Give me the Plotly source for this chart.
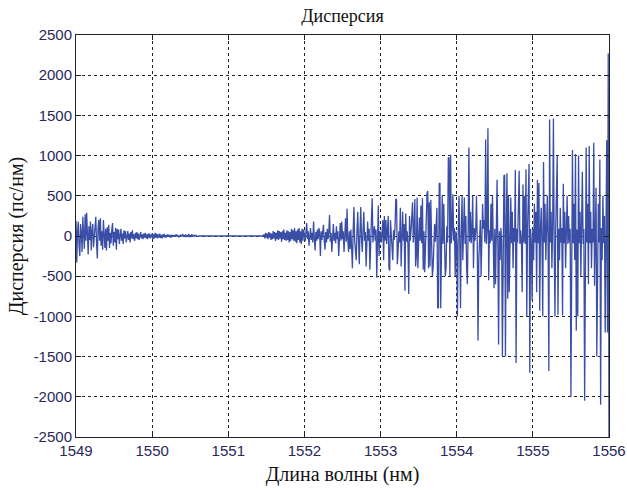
import numpy as np
import plotly.graph_objects as go

# Dispersion samples (ps/nm), one value per 0.01 nm, grouped by nanometre
disp_1549 = [
    190, -330, 60, 180, -120, -250, 150, 40, -200, 240,
    20, -160, 270, -60, 290, -100, -230, 120, -50, 180,
    -180, 60, 150, -140, 30, 160, 240, -90, -280, 100,
    200, -60, 220, -120, 60, -170, 200, 20, -150, 90,
    -180, 110, -60, 140, -150, 40, -90, 80, 160, -120,
    50, -80, 100, -170, 90, -40, 80, -100, 40, 90,
    -60, 30, -100, 70, -30, 60, -80, 40, 60, -50,
    30, -80, 50, -30, 70, -40, 20, -60, 40, -30,
    50, -40, 30, -50, 20, 50, -30, 20, -40, 30,
    -20, 40, -30, 20, -40, 30, -20, 30, -30, 20,
]
disp_1550 = [
    30, -40, 20, -30, 40, -20, 30, -30, 20, -20,
    30, -25, 15, -30, 20, -15, 25, -20, 10, -15,
    20, -10, 15, -15, 10, -20, 15, -10, 10, -10,
    15, -10, 20, -5, 10, -15, 5, 10, -10, 5,
    25, -10, 5, -5, 20, -10, 5, -5, 25, -5,
    5, -10, 20, 0, 5, -5, 15, 0, 5, -5,
    0, 0, 0, 0, 0, 0, 0, 0, 0, 0,
    0, 0, 0, 0, 0, 0, 0, 0, 0, 0,
    0, 0, 0, 0, 0, 0, 0, 0, 0, 0,
    0, 0, 0, 0, 0, 0, 0, 0, 0, 0,
]
disp_1551 = [
    0, 0, 0, 0, 0, 0, 0, 0, 0, 0,
    0, 0, 0, 0, 0, 0, 0, 0, 0, 0,
    0, 0, 0, 0, 0, 0, 0, 0, 0, 0,
    0, 0, 0, 0, 0, 0, 0, 0, 0, 0,
    0, 0, 0, 0, 0, 0, 0, 20, -30, 40,
    -20, 30, -40, 50, -20, 40, -50, 30, -40, 60,
    -30, 50, -60, 40, -40, 70, -50, 60, -30, 50,
    -70, 60, -40, 80, -50, 40, -60, 70, -50, 60,
    -80, 50, -60, 90, -40, 70, -60, 100, -70, 60,
    -90, 80, -50, 100, -80, 60, -100, 90, -60, 80,
]
disp_1552 = [
    30, -60, 50, 160, -40, 60, -120, 30, 100, -50,
    40, -80, 180, -30, -180, 50, -60, 80, -40, 100,
    30, -250, 60, -50, 40, 140, -60, -170, 50, -80,
    90, -40, 60, 260, -70, 40, -200, 50, 150, -60,
    40, -90, 120, -40, 60, -250, 50, 160, -60, 180,
    -40, 60, -200, 40, 220, -70, 340, -50, -200, 60,
    -160, 80, -350, -400, 60, 360, -60, -200, -300, 70,
    300, -50, -350, 60, 360, -40, -200, 80, 300, -60,
    50, -380, 70, 180, -60, 90, -420, 60, 200, 470,
    -80, 60, 120, -60, 80, -520, 50, 380, -250, 60,
]
disp_1553 = [
    40, -80, 60, 200, -300, 250, -60, 200, -100, 50,
    250, -400, -430, 200, 60, -80, -300, 70, -50, 120,
    460, 450, -350, -200, 60, -80, 350, -380, 80, 300,
    -60, 150, -680, 280, -70, 60, -120, -720, 250, -60,
    70, 350, 420, -80, 60, 460, -380, -250, 480, -400,
    70, 230, -60, 380, -90, 470, -420, 60, -450, 80,
    200, 530, 560, -400, 420, -380, 450, -60, -500, -400,
    80, 150, -70, 100, 350, -890, -900, 650, 660, -900,
    90, 500, -100, 400, -60, -500, -400, 120, -80, 980,
    970, -500, 1010, -90, 80, 520, -60, 100, -500, 60,
]
disp_1554 = [
    -80, -1000, 70, 500, -60, -900, 80, 500, -300, 60,
    480, -100, 250, -400, -600, 80, 1100, -70, 300, -90,
    60, 500, -400, 100, -60, 80, 500, -100, -1300, -300,
    60, 200, -500, 70, 400, 90, 200, -80, 1200, -100,
    80, 1340, -550, 70, -90, 400, -60, 500, -80, -650,
    90, -600, 70, 700, -90, -1350, 60, -300, 100, -70,
    -1500, 80, 750, 760, -1500, 90, 780, -780, 500, -700,
    80, 480, -90, 300, -400, 100, -70, 820, -1580, 90,
    -80, 400, 810, -100, 70, -90, -700, 640, -80, 500,
    -100, 830, -1000, 80, 880, 900, -1700, 90, -80, -800,
]
disp_1555 = [
    90, -300, 400, -80, 300, -700, 700, -90, 660, -930,
    80, 350, -100, -1000, 920, -80, 400, -300, 90, 500,
    -90, -1680, 1450, -80, 300, -400, 100, 1460, -90, -1000,
    80, 450, 1000, -980, 90, -300, 350, -80, 100, -990,
    650, -90, 300, -400, 80, 500, -100, 250, -80, 90,
    -2000, 100, 1070, -90, 400, -300, 1020, -1180, 80, -1000,
    1000, -90, 300, -500, 80, 800, -100, 90, -2050, 100,
    1100, -80, 400, -600, 1120, -90, 300, -400, 90, -80,
    1160, -620, 80, 600, -1500, 90, 400, -80, 950, -2100,
    100, -300, 500, -90, 250, -1200, 80, 1190, -1200, 2270,
]
disp_1556 = [-2600]

start_nm = 1549.0
step_nm = 0.01

x_ticks = [1549, 1550, 1551, 1552, 1553, 1554, 1555, 1556]
y_ticks = [-2500, -2000, -1500, -1000, -500, 0, 500, 1000, 1500, 2000, 2500]
y_tick_text = [str(v) for v in y_ticks]

dispersion = np.array(disp_1549 + disp_1550 + disp_1551 + disp_1552
                      + disp_1553 + disp_1554 + disp_1555 + disp_1556, dtype=float)
wavelength = np.round(start_nm + step_nm * np.arange(len(dispersion)), 2)

serif = "Liberation Serif, Times New Roman, serif"
sans = "Liberation Sans, Arial, sans-serif"
tick_color = "#28285a"

fig = go.Figure(
    go.Scatter(
        x=wavelength,
        y=dispersion,
        mode="lines",
        line=dict(color="#3a4ea6", width=1.3),
        showlegend=False,
    )
)

axis_common = dict(
    showline=True,
    linecolor="#222222",
    linewidth=1,
    mirror="ticks",
    ticks="inside",
    ticklen=5,
    tickcolor="#222222",
    showgrid=True,
    gridcolor="#222222",
    gridwidth=1,
    griddash="dot",
    zeroline=False,
    automargin=False,
    tickfont=dict(family=sans, size=15, color=tick_color),
)

fig.update_xaxes(
    range=[1549, 1556],
    tickvals=x_ticks,
    ticktext=[str(v) for v in x_ticks],
    title=dict(text="Длина волны (нм)", font=dict(family=serif, size=20, color="#111111"), standoff=8),
    **axis_common,
)
fig.update_yaxes(
    range=[-2500, 2500],
    tickvals=y_ticks,
    ticktext=y_tick_text,
    title=dict(text="Дисперсия (пс/нм)", font=dict(family=serif, size=20, color="#111111"), standoff=4),
    **axis_common,
)

fig.update_layout(
    width=627,
    height=490,
    margin=dict(l=76, r=18, t=35, b=53),
    paper_bgcolor="white",
    plot_bgcolor="white",
    title=dict(
        text="Дисперсия",
        font=dict(family=serif, size=18, color="#111111"),
        xref="paper",
        x=0.5,
        xanchor="center",
        yref="container",
        y=1 - 16 / 490,
        yanchor="middle",
    ),
)

fig.write_html("out.html")
